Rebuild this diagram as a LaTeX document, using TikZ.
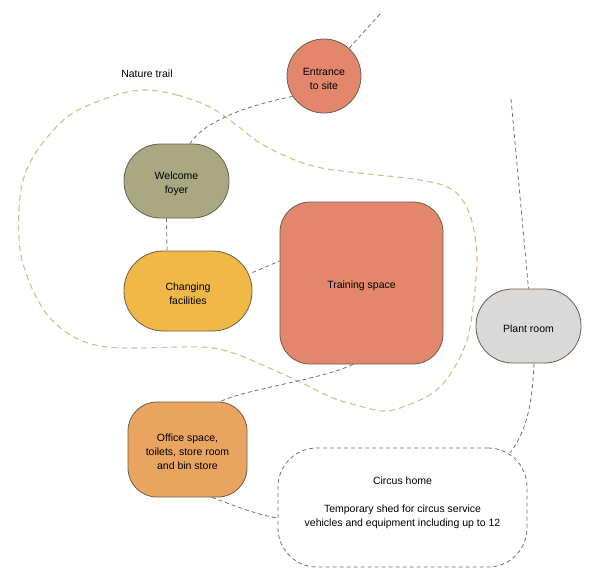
\documentclass[tikz,border=0pt]{standalone}
\usepackage{fontspec}
\setmainfont{Liberation Sans}
\usetikzlibrary{calc}
\definecolor{cstroke}{HTML}{6E5C4D}
\definecolor{cconn}{HTML}{707070}
\definecolor{ctrail}{HTML}{D2BE90}
\definecolor{cent}{HTML}{E2876C}
\definecolor{cfoyer}{HTML}{A8A883}
\definecolor{cchange}{HTML}{F0B847}
\definecolor{coffice}{HTML}{E9A560}
\definecolor{cplant}{HTML}{D9D9D9}
\begin{document}
\begin{tikzpicture}[x=1pt,y=-1pt,
  txt/.style={font=\fontsize{10.5}{14}\selectfont, align=center, text=black},
  room/.style={draw=cstroke, line width=0.8pt, inner sep=0pt},
  rtext/.style={label={[txt, yshift=-2.5pt]center:#1}},
  conn/.style={draw=cconn, line width=0.8pt, dash pattern=on 4pt off 3pt},
  trail/.style={draw=ctrail, line width=1.1pt, dash pattern=on 6pt off 4pt}]
\useasboundingbox (0,0) rectangle (603,579);
% nature trail
\draw[trail] plot[smooth cycle, tension=0.55] coordinates {
 (143,90) (177,95) (210,107) (235,124) (260,143) (290,158) (317,167) (350,172)
 (420,180) (453,190) (470,215) (477,257) (473,307) (467,340) (453,370) (433,393)
 (400,408) (383,411) (367,408) (333,398) (300,382) (267,367) (233,353) (200,347)
 (100,346) (50,318) (22,260) (20,197) (33,157) (67,117) (110,97)};
\node[txt] (trailname) at (147,74) {Nature trail};
% rooms
\node[room, circle, fill=cent, minimum size=74pt, rtext={Entrance\\to site}] (entrance) at (324,76) {};
\node[room, fill=cfoyer, rounded corners=36.5pt, minimum width=105pt, minimum height=74pt, rtext={Welcome\\foyer}] (foyer) at (176.5,181) {};
\node[room, fill=cchange, rounded corners=39.5pt, minimum width=128pt, minimum height=80pt, rtext={Changing\\facilities}] (changing) at (188,291) {};
\node[room, fill=cent, rounded corners=30pt, minimum width=163pt, minimum height=162pt, rtext={Training space}] (training) at (361.5,283) {};
\node[room, fill=cplant, rounded corners=36.5pt, minimum width=105pt, minimum height=74pt, rtext={Plant room}] (plant) at (528.5,326) {};
\node[room, fill=coffice, rounded corners=29pt, minimum width=119pt, minimum height=95pt, rtext={Office space,\\toilets, store room\\and bin store}] (office) at (187.5,449.5) {};
\node[draw=cconn, line width=0.8pt, dash pattern=on 4pt off 3pt, rounded corners=39pt, minimum width=249pt, minimum height=119pt, inner sep=0pt] (circus) at (402.5,507.5) {};
\node[txt] (circustext) at (402.5,503) {Circus home\\ \\Temporary shed for circus service\\vehicles and equipment including up to 12};
% connectors
\coordinate (enttop) at (380,14);
\coordinate (planttop) at (511,99);
\draw[conn] (enttop) -- (entrance);
\draw[conn] (entrance.213) .. controls (250,105) and (205,120) .. ([xshift=13.5pt]foyer.north);
\draw[conn] ([xshift=-10pt]foyer.south) -- ([xshift=-21pt]changing.north);
\draw[conn] (changing.16) -- (training.165);
\draw[conn] ([xshift=-8.5pt]training.south) .. controls (320,380) and (250,388) .. ([xshift=32.5pt]office.north);
\draw[conn] (planttop) -- (plant.north);
\draw[conn] ([xshift=5.5pt]plant.south) .. controls (532,410) and (525,432) .. ($(circus.north east)+(-17,5)$);
\draw[conn] ([xshift=24.5pt]office.south) .. controls (235,506) and (258,515) .. ([yshift=-10.5pt]circus.west);
\end{tikzpicture}
\end{document}
